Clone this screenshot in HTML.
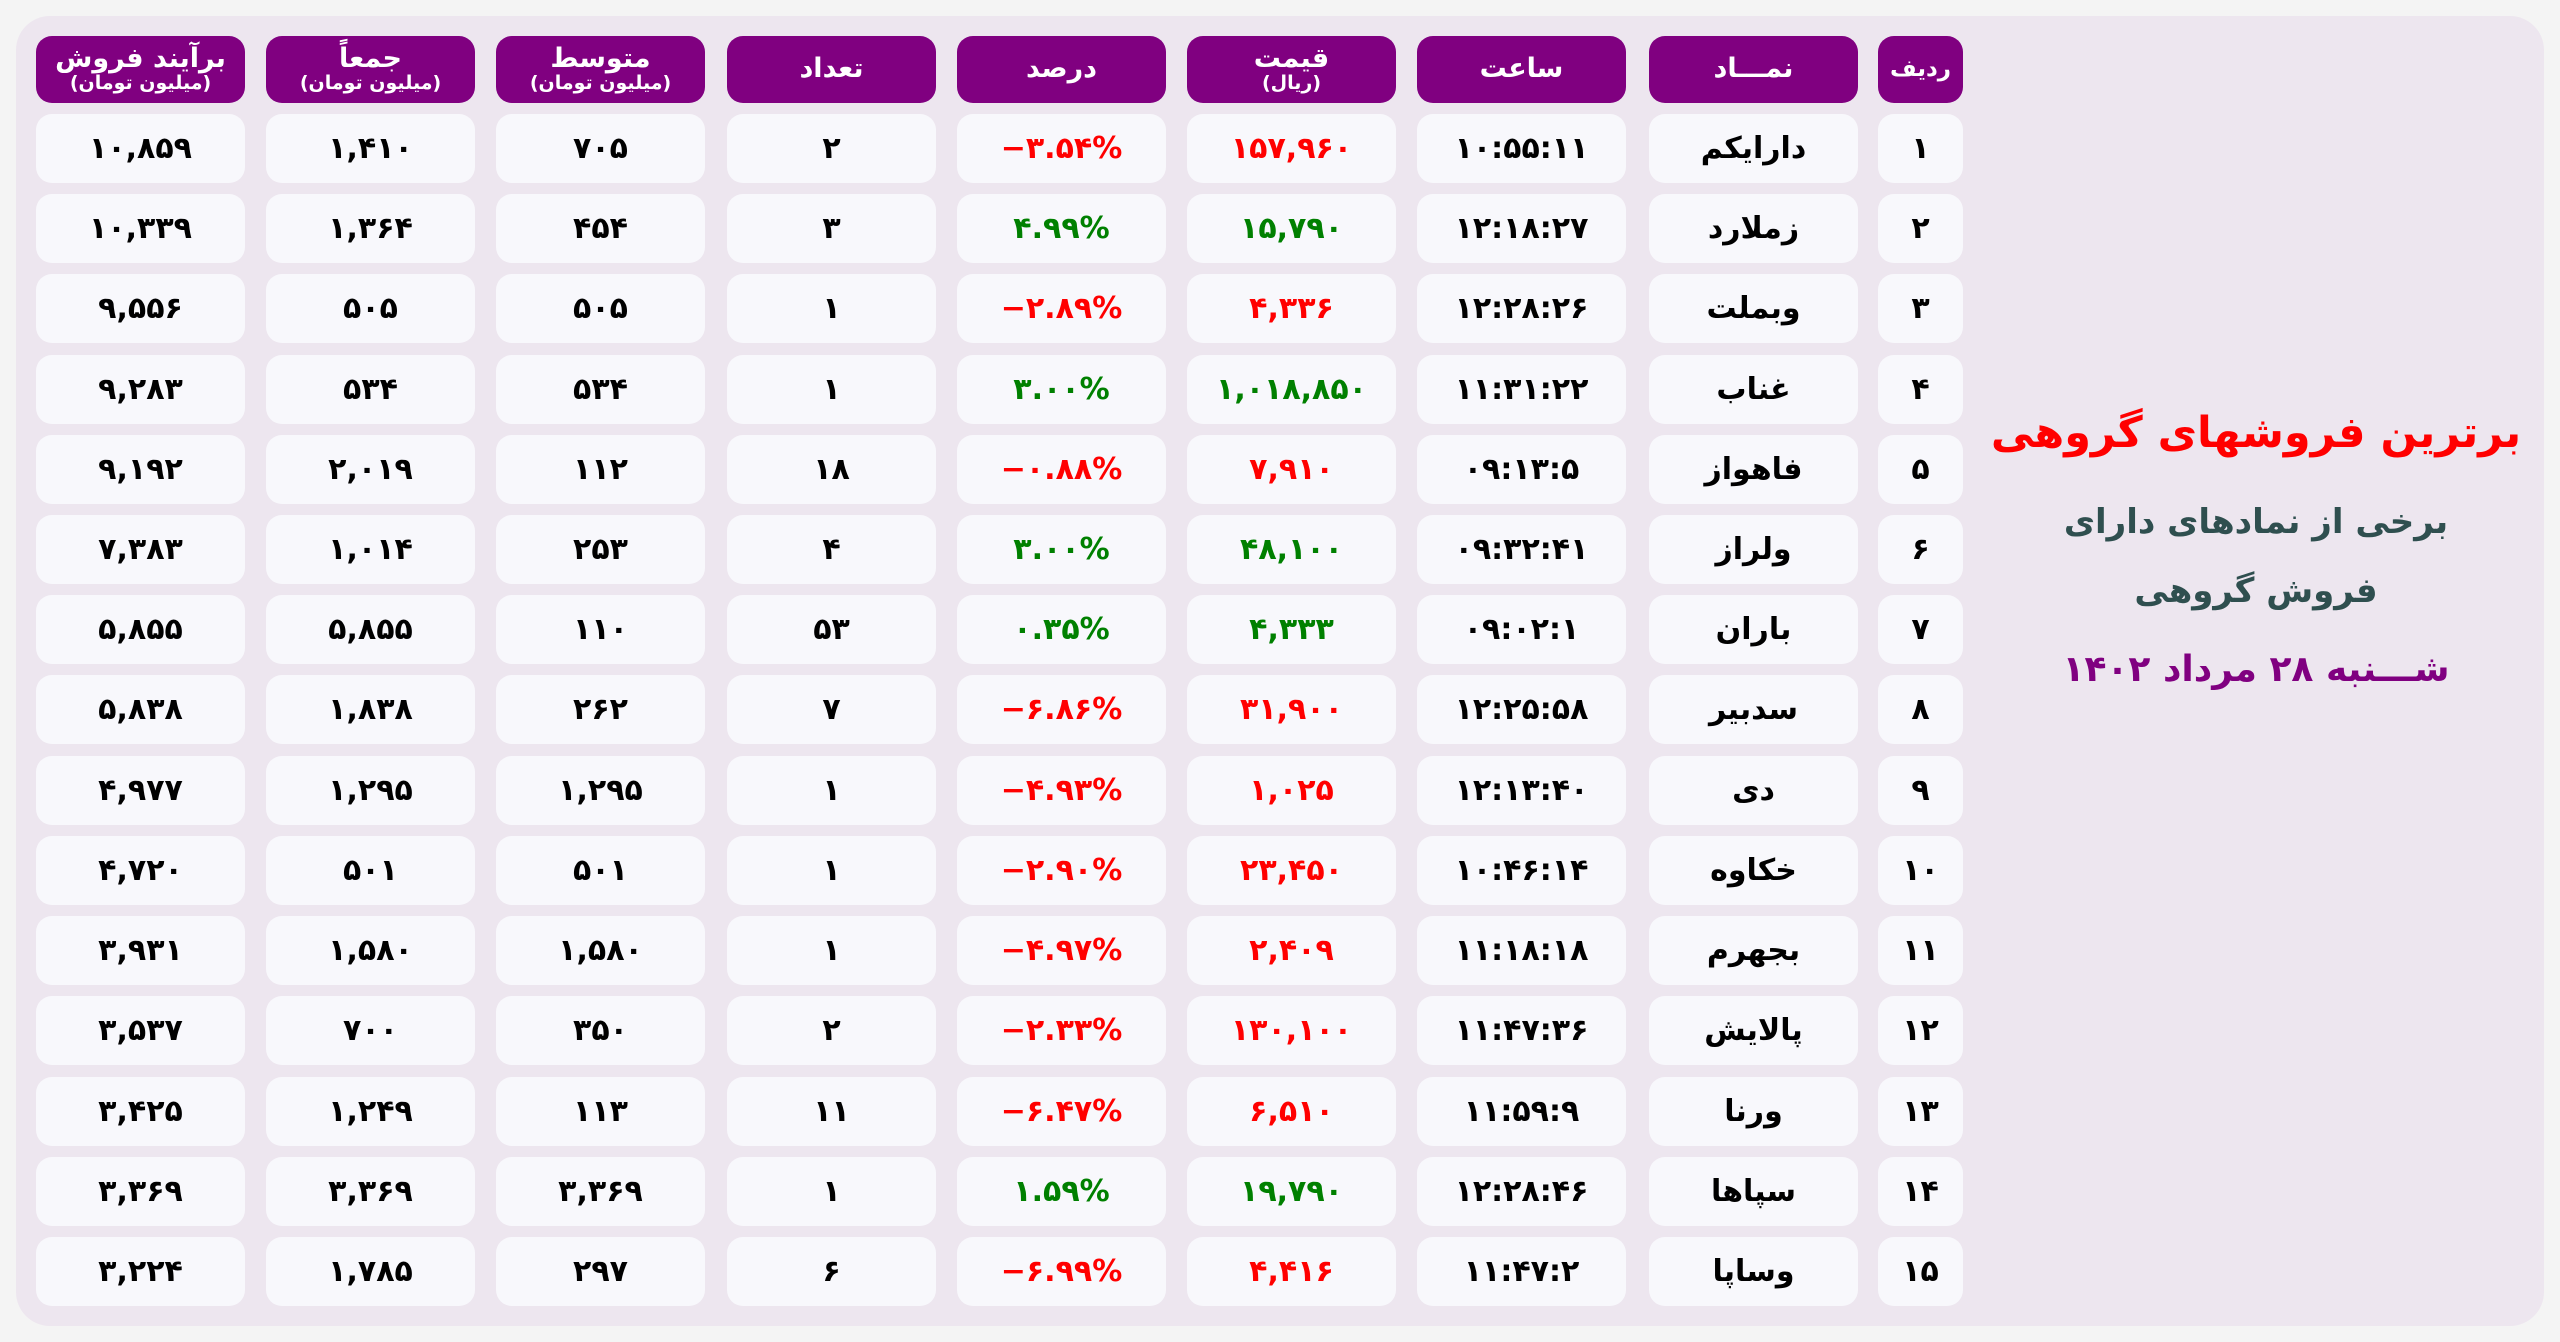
<!DOCTYPE html>
<html><head><meta charset="utf-8">
<style>
html,body{margin:0;padding:0}
body{width:2560px;height:1342px;background:#f4f4f4;position:relative;overflow:hidden;font-family:"DejaVu Sans","Liberation Sans",sans-serif;font-weight:bold}
.bg{position:absolute;left:16px;top:16px;width:2528px;height:1310px;background:#ede6ef;border-radius:34px}
.h,.c{position:absolute;display:flex;flex-direction:column;align-items:center;justify-content:center;border-radius:16px;text-align:center;white-space:nowrap}
.h{background:#800080;color:#fff;height:67px;top:36px;font-size:27px;line-height:1.05}
.h small{font-size:19px;font-weight:bold}
.c{background:#f8f8fc;color:#000;height:69px;font-size:30px;direction:ltr}
.r{color:#f00}.g{color:#008000}
.n{direction:rtl}
.t{position:absolute;left:1960px;width:592px;text-align:center;direction:rtl;white-space:nowrap}
</style></head><body>
<div class="bg"></div>

<div class="h" style="left:36px;width:209px">برآیند فروش<small>(میلیون تومان)</small></div>
<div class="h" style="left:266px;width:209px">جمعاً<small>(میلیون تومان)</small></div>
<div class="h" style="left:496px;width:209px">متوسط<small>(میلیون تومان)</small></div>
<div class="h" style="left:727px;width:209px">تعداد</div>
<div class="h" style="left:957px;width:209px">درصد</div>
<div class="h" style="left:1187px;width:209px">قیمت<small>(ریال)</small></div>
<div class="h" style="left:1417px;width:209px">ساعت</div>
<div class="h" style="left:1649px;width:209px">نمـــاد</div>
<div class="h" style="left:1878px;width:85px;font-size:23px">ردیف</div>

<div id="rows">
<div class="c" style="left:36px;width:209px;top:114px">۱۰,۸۵۹</div>
<div class="c" style="left:266px;width:209px;top:114px">۱,۴۱۰</div>
<div class="c" style="left:496px;width:209px;top:114px">۷۰۵</div>
<div class="c" style="left:727px;width:209px;top:114px">۲</div>
<div class="c r" style="left:957px;width:209px;top:114px">−۳.۵۴%</div>
<div class="c r" style="left:1187px;width:209px;top:114px">۱۵۷,۹۶۰</div>
<div class="c" style="left:1417px;width:209px;top:114px">۱۰:۵۵:۱۱</div>
<div class="c n" style="left:1649px;width:209px;top:114px">دارا‌یکم</div>
<div class="c" style="left:1878px;width:85px;top:114px">۱</div>

<div class="c" style="left:36px;width:209px;top:194px">۱۰,۳۳۹</div>
<div class="c" style="left:266px;width:209px;top:194px">۱,۳۶۴</div>
<div class="c" style="left:496px;width:209px;top:194px">۴۵۴</div>
<div class="c" style="left:727px;width:209px;top:194px">۳</div>
<div class="c g" style="left:957px;width:209px;top:194px">۴.۹۹%</div>
<div class="c g" style="left:1187px;width:209px;top:194px">۱۵,۷۹۰</div>
<div class="c" style="left:1417px;width:209px;top:194px">۱۲:۱۸:۲۷</div>
<div class="c n" style="left:1649px;width:209px;top:194px">زملارد</div>
<div class="c" style="left:1878px;width:85px;top:194px">۲</div>

<div class="c" style="left:36px;width:209px;top:274px">۹,۵۵۶</div>
<div class="c" style="left:266px;width:209px;top:274px">۵۰۵</div>
<div class="c" style="left:496px;width:209px;top:274px">۵۰۵</div>
<div class="c" style="left:727px;width:209px;top:274px">۱</div>
<div class="c r" style="left:957px;width:209px;top:274px">−۲.۸۹%</div>
<div class="c r" style="left:1187px;width:209px;top:274px">۴,۳۳۶</div>
<div class="c" style="left:1417px;width:209px;top:274px">۱۲:۲۸:۲۶</div>
<div class="c n" style="left:1649px;width:209px;top:274px">وبملت</div>
<div class="c" style="left:1878px;width:85px;top:274px">۳</div>

<div class="c" style="left:36px;width:209px;top:355px">۹,۲۸۳</div>
<div class="c" style="left:266px;width:209px;top:355px">۵۳۴</div>
<div class="c" style="left:496px;width:209px;top:355px">۵۳۴</div>
<div class="c" style="left:727px;width:209px;top:355px">۱</div>
<div class="c g" style="left:957px;width:209px;top:355px">۳.۰۰%</div>
<div class="c g" style="left:1187px;width:209px;top:355px">۱,۰۱۸,۸۵۰</div>
<div class="c" style="left:1417px;width:209px;top:355px">۱۱:۳۱:۲۲</div>
<div class="c n" style="left:1649px;width:209px;top:355px">غناب</div>
<div class="c" style="left:1878px;width:85px;top:355px">۴</div>

<div class="c" style="left:36px;width:209px;top:435px">۹,۱۹۲</div>
<div class="c" style="left:266px;width:209px;top:435px">۲,۰۱۹</div>
<div class="c" style="left:496px;width:209px;top:435px">۱۱۲</div>
<div class="c" style="left:727px;width:209px;top:435px">۱۸</div>
<div class="c r" style="left:957px;width:209px;top:435px">−۰.۸۸%</div>
<div class="c r" style="left:1187px;width:209px;top:435px">۷,۹۱۰</div>
<div class="c" style="left:1417px;width:209px;top:435px">۰۹:۱۳:۵</div>
<div class="c n" style="left:1649px;width:209px;top:435px">فاهواز</div>
<div class="c" style="left:1878px;width:85px;top:435px">۵</div>

<div class="c" style="left:36px;width:209px;top:515px">۷,۳۸۳</div>
<div class="c" style="left:266px;width:209px;top:515px">۱,۰۱۴</div>
<div class="c" style="left:496px;width:209px;top:515px">۲۵۳</div>
<div class="c" style="left:727px;width:209px;top:515px">۴</div>
<div class="c g" style="left:957px;width:209px;top:515px">۳.۰۰%</div>
<div class="c g" style="left:1187px;width:209px;top:515px">۴۸,۱۰۰</div>
<div class="c" style="left:1417px;width:209px;top:515px">۰۹:۳۲:۴۱</div>
<div class="c n" style="left:1649px;width:209px;top:515px">ولراز</div>
<div class="c" style="left:1878px;width:85px;top:515px">۶</div>

<div class="c" style="left:36px;width:209px;top:595px">۵,۸۵۵</div>
<div class="c" style="left:266px;width:209px;top:595px">۵,۸۵۵</div>
<div class="c" style="left:496px;width:209px;top:595px">۱۱۰</div>
<div class="c" style="left:727px;width:209px;top:595px">۵۳</div>
<div class="c g" style="left:957px;width:209px;top:595px">۰.۳۵%</div>
<div class="c g" style="left:1187px;width:209px;top:595px">۴,۳۳۳</div>
<div class="c" style="left:1417px;width:209px;top:595px">۰۹:۰۲:۱</div>
<div class="c n" style="left:1649px;width:209px;top:595px">باران</div>
<div class="c" style="left:1878px;width:85px;top:595px">۷</div>

<div class="c" style="left:36px;width:209px;top:675px">۵,۸۳۸</div>
<div class="c" style="left:266px;width:209px;top:675px">۱,۸۳۸</div>
<div class="c" style="left:496px;width:209px;top:675px">۲۶۲</div>
<div class="c" style="left:727px;width:209px;top:675px">۷</div>
<div class="c r" style="left:957px;width:209px;top:675px">−۶.۸۶%</div>
<div class="c r" style="left:1187px;width:209px;top:675px">۳۱,۹۰۰</div>
<div class="c" style="left:1417px;width:209px;top:675px">۱۲:۲۵:۵۸</div>
<div class="c n" style="left:1649px;width:209px;top:675px">سدبیر</div>
<div class="c" style="left:1878px;width:85px;top:675px">۸</div>

<div class="c" style="left:36px;width:209px;top:756px">۴,۹۷۷</div>
<div class="c" style="left:266px;width:209px;top:756px">۱,۲۹۵</div>
<div class="c" style="left:496px;width:209px;top:756px">۱,۲۹۵</div>
<div class="c" style="left:727px;width:209px;top:756px">۱</div>
<div class="c r" style="left:957px;width:209px;top:756px">−۴.۹۳%</div>
<div class="c r" style="left:1187px;width:209px;top:756px">۱,۰۲۵</div>
<div class="c" style="left:1417px;width:209px;top:756px">۱۲:۱۳:۴۰</div>
<div class="c n" style="left:1649px;width:209px;top:756px">دی</div>
<div class="c" style="left:1878px;width:85px;top:756px">۹</div>

<div class="c" style="left:36px;width:209px;top:836px">۴,۷۲۰</div>
<div class="c" style="left:266px;width:209px;top:836px">۵۰۱</div>
<div class="c" style="left:496px;width:209px;top:836px">۵۰۱</div>
<div class="c" style="left:727px;width:209px;top:836px">۱</div>
<div class="c r" style="left:957px;width:209px;top:836px">−۲.۹۰%</div>
<div class="c r" style="left:1187px;width:209px;top:836px">۲۳,۴۵۰</div>
<div class="c" style="left:1417px;width:209px;top:836px">۱۰:۴۶:۱۴</div>
<div class="c n" style="left:1649px;width:209px;top:836px">خکاوه</div>
<div class="c" style="left:1878px;width:85px;top:836px">۱۰</div>

<div class="c" style="left:36px;width:209px;top:916px">۳,۹۳۱</div>
<div class="c" style="left:266px;width:209px;top:916px">۱,۵۸۰</div>
<div class="c" style="left:496px;width:209px;top:916px">۱,۵۸۰</div>
<div class="c" style="left:727px;width:209px;top:916px">۱</div>
<div class="c r" style="left:957px;width:209px;top:916px">−۴.۹۷%</div>
<div class="c r" style="left:1187px;width:209px;top:916px">۲,۴۰۹</div>
<div class="c" style="left:1417px;width:209px;top:916px">۱۱:۱۸:۱۸</div>
<div class="c n" style="left:1649px;width:209px;top:916px">بجهرم</div>
<div class="c" style="left:1878px;width:85px;top:916px">۱۱</div>

<div class="c" style="left:36px;width:209px;top:996px">۳,۵۳۷</div>
<div class="c" style="left:266px;width:209px;top:996px">۷۰۰</div>
<div class="c" style="left:496px;width:209px;top:996px">۳۵۰</div>
<div class="c" style="left:727px;width:209px;top:996px">۲</div>
<div class="c r" style="left:957px;width:209px;top:996px">−۲.۳۳%</div>
<div class="c r" style="left:1187px;width:209px;top:996px">۱۳۰,۱۰۰</div>
<div class="c" style="left:1417px;width:209px;top:996px">۱۱:۴۷:۳۶</div>
<div class="c n" style="left:1649px;width:209px;top:996px">پالایش</div>
<div class="c" style="left:1878px;width:85px;top:996px">۱۲</div>

<div class="c" style="left:36px;width:209px;top:1077px">۳,۴۲۵</div>
<div class="c" style="left:266px;width:209px;top:1077px">۱,۲۴۹</div>
<div class="c" style="left:496px;width:209px;top:1077px">۱۱۳</div>
<div class="c" style="left:727px;width:209px;top:1077px">۱۱</div>
<div class="c r" style="left:957px;width:209px;top:1077px">−۶.۴۷%</div>
<div class="c r" style="left:1187px;width:209px;top:1077px">۶,۵۱۰</div>
<div class="c" style="left:1417px;width:209px;top:1077px">۱۱:۵۹:۹</div>
<div class="c n" style="left:1649px;width:209px;top:1077px">ورنا</div>
<div class="c" style="left:1878px;width:85px;top:1077px">۱۳</div>

<div class="c" style="left:36px;width:209px;top:1157px">۳,۳۶۹</div>
<div class="c" style="left:266px;width:209px;top:1157px">۳,۳۶۹</div>
<div class="c" style="left:496px;width:209px;top:1157px">۳,۳۶۹</div>
<div class="c" style="left:727px;width:209px;top:1157px">۱</div>
<div class="c g" style="left:957px;width:209px;top:1157px">۱.۵۹%</div>
<div class="c g" style="left:1187px;width:209px;top:1157px">۱۹,۷۹۰</div>
<div class="c" style="left:1417px;width:209px;top:1157px">۱۲:۲۸:۴۶</div>
<div class="c n" style="left:1649px;width:209px;top:1157px">سپاها</div>
<div class="c" style="left:1878px;width:85px;top:1157px">۱۴</div>

<div class="c" style="left:36px;width:209px;top:1237px">۳,۲۲۴</div>
<div class="c" style="left:266px;width:209px;top:1237px">۱,۷۸۵</div>
<div class="c" style="left:496px;width:209px;top:1237px">۲۹۷</div>
<div class="c" style="left:727px;width:209px;top:1237px">۶</div>
<div class="c r" style="left:957px;width:209px;top:1237px">−۶.۹۹%</div>
<div class="c r" style="left:1187px;width:209px;top:1237px">۴,۴۱۶</div>
<div class="c" style="left:1417px;width:209px;top:1237px">۱۱:۴۷:۲</div>
<div class="c n" style="left:1649px;width:209px;top:1237px">وساپا</div>
<div class="c" style="left:1878px;width:85px;top:1237px">۱۵</div>
</div>

<div class="t" style="top:398px;font-size:43px;color:#ff0000;line-height:70px">برترین فروشهای گروهی</div>
<div class="t" style="top:497px;font-size:34px;color:#2f4f4f;line-height:50px">برخی از نمادهای دارای</div>
<div class="t" style="top:566px;font-size:34px;color:#2f4f4f;line-height:50px">فروش گروهی</div>
<div class="t" style="top:645px;font-size:36px;color:#800080;line-height:50px">شـــنبه ۲۸ مرداد ۱۴۰۲</div>
</body></html>
